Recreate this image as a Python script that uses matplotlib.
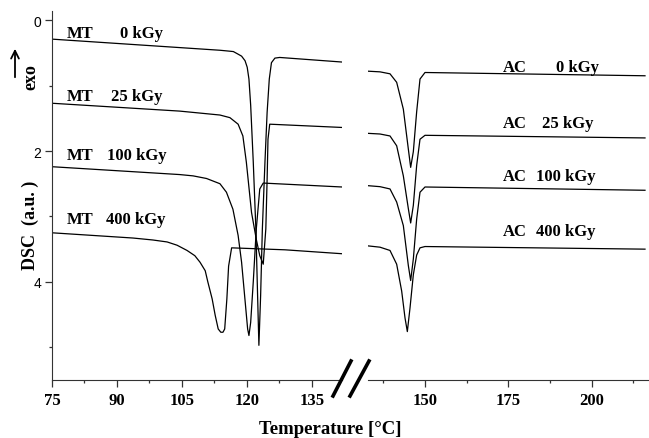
import matplotlib
matplotlib.use("Agg")
import matplotlib.pyplot as plt
from matplotlib.lines import Line2D
from matplotlib.patches import FancyArrowPatch

# DSC curves: temperature [°C] and signal (a.u.)
mt0_T = [75, 113.8, 115.4, 116.9, 118.0, 118.8, 119.6, 120.1, 120.5, 120.9,
         121.5, 122.1, 122.5, 122.8, 123.2, 123.6, 124.2, 124.7, 125.2,
         125.7, 126.5, 127.6, 142]
mt0_y = [0.29, 0.46, 0.47, 0.48, 0.52, 0.55, 0.62, 0.72, 0.90, 1.30,
         2.17, 3.19, 4.21, 4.97, 4.21, 3.19, 2.17, 1.41, 0.90,
         0.65, 0.58, 0.57, 0.64]

mt25_T = [75, 104.5, 113.8, 116.1, 118.0, 119.1, 119.9, 121.1, 122.2, 123.0,
          123.8, 124.4, 124.7, 124.9, 125.3, 142]
mt25_y = [1.27, 1.39, 1.45, 1.49, 1.59, 1.77, 2.17, 2.94, 3.35, 3.60,
          3.73, 3.19, 2.43, 1.82, 1.59, 1.64]

mt100_T = [75, 104.5, 107.6, 110.7, 113.8, 115.3, 116.8, 118.0, 118.8, 119.5,
           120.2, 120.5, 120.9, 121.5, 122.2, 123.0, 123.8, 142]
mt100_y = [2.24, 2.36, 2.38, 2.42, 2.50, 2.63, 2.89, 3.29, 3.70, 4.21,
           4.72, 4.82, 4.62, 4.00, 3.19, 2.58, 2.49, 2.55]

mt400_T = [75, 93.7, 98.3, 101.6, 103.9, 106.2, 108.0, 109.2, 110.4, 111.0,
           112.0, 112.7, 113.4, 114.0, 114.5, 114.9, 115.4, 115.8, 116.5,
           128.8, 142]
mt400_y = [3.25, 3.33, 3.36, 3.39, 3.44, 3.52, 3.60, 3.70, 3.83, 4.00,
           4.26, 4.51, 4.72, 4.77, 4.77, 4.72, 4.26, 3.76, 3.48,
           3.51, 3.57]

ac_T = [132.9, 136.5, 139.5, 141.5, 143.5, 145.0, 145.7, 146.5, 147.5,
        148.5, 150, 216]
ac0_y = [0.78, 0.79, 0.82, 0.95, 1.36, 1.97, 2.25, 2.01, 1.40, 0.90, 0.80, 0.85]
ac25_y = [1.73, 1.74, 1.77, 1.92, 2.38, 2.88, 3.10, 2.83, 2.22, 1.82, 1.76, 1.80]
ac100_y = [2.53, 2.545, 2.58, 2.78, 3.14, 3.75, 3.98, 3.65, 3.04, 2.63, 2.55, 2.60]

ac400_T = [132.9, 136.5, 139.5, 141.5, 143.0, 144.0, 144.7, 145.5, 146.5,
           147.5, 148.5, 150, 216]
ac400_y = [3.45, 3.47, 3.52, 3.73, 4.14, 4.55, 4.76, 4.40, 3.89, 3.59,
           3.48, 3.46, 3.50]

mt_labels = ["0 kGy", "25 kGy", "100 kGy", "400 kGy"]
ac_labels = ["0 kGy", "25 kGy", "100 kGy", "400 kGy"]

serif = "Liberation Serif"
sans = "Liberation Sans"

fig = plt.figure(figsize=(6.49, 4.39), dpi=100)
ax1 = fig.add_axes([52 / 649, 1 - 381 / 439, 290 / 649, 369 / 439])
ax2 = fig.add_axes([368 / 649, 1 - 381 / 439, 281 / 649, 369 / 439])

lw = 0.9
for T, y in [(mt0_T, mt0_y), (mt25_T, mt25_y), (mt100_T, mt100_y), (mt400_T, mt400_y)]:
    ax1.plot(T, y, color="black", lw=lw)
for y in [ac0_y, ac25_y, ac100_y]:
    ax2.plot(ac_T, y, color="black", lw=lw)
ax2.plot(ac400_T, ac400_y, color="black", lw=lw)

for ax in (ax1, ax2):
    ax.set_ylim(5.5, -0.14)
    ax.spines["top"].set_visible(False)
    ax.spines["right"].set_visible(False)
    ax.spines["bottom"].set_color("#333333")
    ax.spines["left"].set_color("#333333")
    ax.tick_params(which="major", length=5, width=0.9, color="#333333")
    ax.tick_params(which="minor", length=2.5, width=0.9, color="#333333")
    ax.set_facecolor("none")

ax1.set_xlim(75, 142)
ax1.set_xticks([75, 90, 105, 120, 135])
ax1.set_xticks([82.5, 97.5, 112.5, 127.5], minor=True)
ax1.set_yticks([0, 2, 4])
ax1.set_yticks([1, 3, 5], minor=True)
ax1.set_yticklabels(["0", "2", "4"], fontfamily=sans, fontsize=10)
ax1.tick_params(axis="y", pad=3)

ax2.set_xlim(132.9, 217.2)
ax2.set_xticks([150, 175, 200])
ax2.set_xticks([137.5, 162.5, 187.5, 212.5], minor=True)
ax2.spines["left"].set_visible(False)
ax2.set_yticks([])

for ax in (ax1, ax2):
    for lab in ax.get_xticklabels():
        lab.set_fontfamily(serif)
        lab.set_fontweight("bold")
        lab.set_fontsize(12)
    ax.tick_params(axis="x", pad=4)

# curve labels
tkw = dict(fontfamily=serif, fontweight="bold", fontsize=12, va="baseline", ha="left")
mt_y = [0.26, 1.22, 2.12, 3.10]
mt_x = [90.7, 88.6, 87.7, 87.5]
for lab, yy, xx in zip(mt_labels, mt_y, mt_x):
    ax1.text(78.5, yy, "MT", **tkw)
    ax1.text(xx, yy, lab, **tkw)

ac_y = [0.77, 1.64, 2.45, 3.29]
ac_x = [189.4, 185.2, 183.2, 183.2]
for lab, yy, xx in zip(ac_labels, ac_y, ac_x):
    ax2.text(173.4, yy, "AC", **tkw)
    ax2.text(xx, yy, lab, **tkw)

# axis labels
fig.text(330 / 649, 1 - 434 / 439, "Temperature [°C]", fontfamily=serif,
         fontweight="bold", fontsize=13.5, ha="center", va="baseline")
fig.text(30 / 649, 1 - 225 / 439, "DSC  (a.u. )", fontfamily=serif,
         fontweight="bold", fontsize=13, ha="center", va="center", rotation=90)
fig.text(31 / 649, 1 - 77 / 439, "exo", fontfamily=serif,
         fontweight="bold", fontsize=13, ha="center", va="center", rotation=90)
fig.add_artist(FancyArrowPatch(
    (15 / 649, 1 - 81 / 439), (15 / 649, 1 - 47 / 439), transform=fig.transFigure,
    arrowstyle="->", mutation_scale=14, lw=1.3, color="black"))

# axis break marks
for x0, x1 in [(333, 351), (350, 369)]:
    fig.add_artist(Line2D([x0 / 649, x1 / 649], [1 - 397 / 439, 1 - 362 / 439],
                          transform=fig.transFigure, color="black", lw=2.6))

fig.savefig("out.png", dpi=100)
